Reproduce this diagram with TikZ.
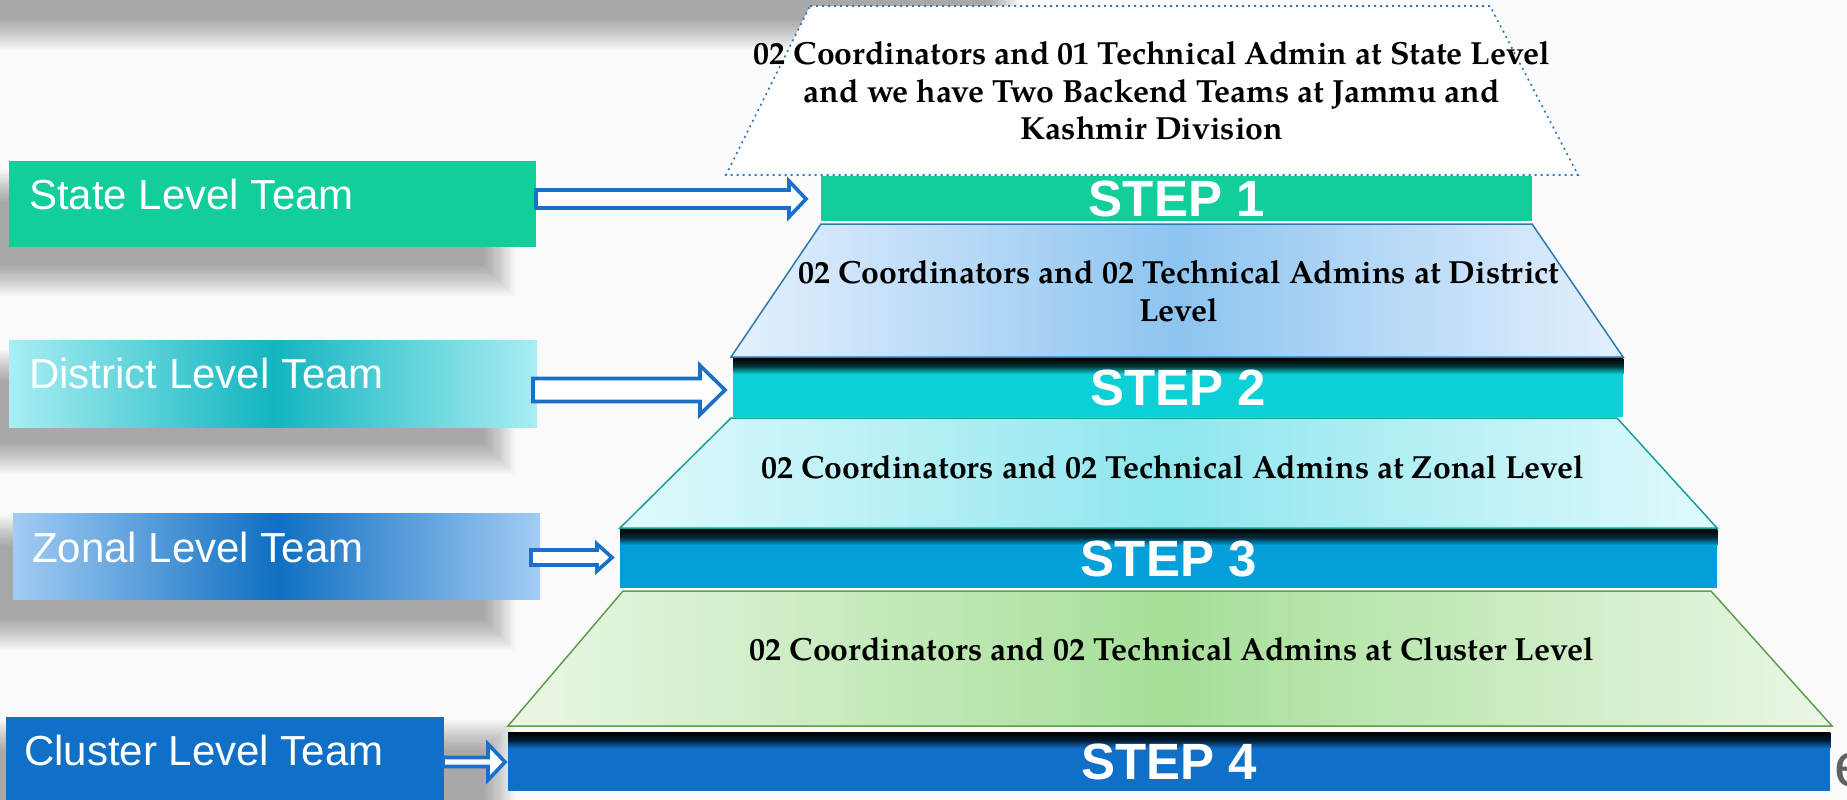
\documentclass[tikz,border=0pt]{standalone}
\usepackage{fontspec}
\setmainfont{Liberation Sans}
\newfontfamily\pagfont{TeX Gyre Pagella}
\definecolor{bgc}{RGB}{250,250,250}
\definecolor{cstate}{RGB}{18,206,154}
\definecolor{cstep2}{RGB}{11,208,216}
\definecolor{cstep3}{RGB}{2,159,217}
\definecolor{cblue}{RGB}{16,111,198}
\definecolor{carrow}{RGB}{26,111,200}
\definecolor{cdot}{RGB}{46,117,192}
\definecolor{dEdge}{RGB}{228,240,253}
\definecolor{dMid}{RGB}{141,196,240}
\definecolor{dLine}{RGB}{43,123,175}
\definecolor{zEdge}{RGB}{224,250,252}
\definecolor{zMid}{RGB}{143,230,238}
\definecolor{zLine}{RGB}{27,156,156}
\definecolor{gEdge}{RGB}{234,247,230}
\definecolor{gMid}{RGB}{166,223,152}
\definecolor{gLine}{RGB}{94,158,72}
\definecolor{dbLight}{RGB}{169,238,243}
\definecolor{dbDark}{RGB}{18,181,191}
\definecolor{zbLight}{RGB}{162,204,243}
\definecolor{zbDark}{RGB}{15,111,194}
\tikzset{
  lbltext/.style={font=\fontsize{42}{48}\selectfont, text=white, inner sep=0pt},
  steptext/.style={font=\fontsize{51}{56}\selectfont\bfseries, text=white, inner sep=0pt},
  desc/.style={font=\pagfont\bfseries\fontsize{32}{37.5}\selectfont, align=center, inner sep=0pt, text=black},
  barrow/.style={draw=carrow, fill=white, line width=3.6pt, line join=miter},
  trap/.style={line width=1.5pt},
  boxnode/.style={draw=none, inner sep=0pt, anchor=north west},
  stepbar/.style={draw=none, inner sep=0pt, anchor=north west},
}
\newcommand\blockarrow[6]{%
  \draw[barrow] (#1,#4-#5) -- (#2,#4-#5) -- (#2,#4-#6) -- (#3,#4) -- (#2,#4+#6) -- (#2,#4+#5) -- (#1,#4+#5) -- cycle;}
\newcommand\softrect[4]{%
  \foreach \i in {0,...,17}{\fill[black, opacity=0.019] (#1+\i*1.8, #2+\i*1.8) rectangle (#3-\i*1.8, #4-\i*1.8);}}
\begin{document}
\begin{tikzpicture}[x=1pt,y=-1pt]
\useasboundingbox (0,0) rectangle (1847,800);
\fill[bgc] (0,0) rectangle (1847,800);
% background shadows
\softrect{-40}{-40}{1020}{50}
\softrect{-40}{170}{515}{296}
\softrect{-40}{350}{515}{474}
\softrect{-40}{515}{515}{650}
\softrect{-40}{720}{515}{840}

% trapezoids
\draw[cdot, line width=1.6pt, dash pattern=on 2pt off 4pt, fill=white] (810,6) -- (1490,6) -- (1578,175) -- (726,175) -- cycle;
\draw[trap, draw=dLine, left color=dEdge, right color=dEdge, middle color=dMid] (821,224) -- (1532,224) -- (1623,357) -- (731,357) -- cycle;
\draw[trap, draw=zLine, left color=zEdge, right color=zEdge, middle color=zMid] (731,418) -- (1617,418) -- (1717,528) -- (620,528) -- cycle;
\draw[trap, draw=gLine, left color=gEdge, right color=gEdge, middle color=gMid] (623,591) -- (1711,591) -- (1832,726) -- (508,726) -- cycle;

% step bars
\node[stepbar, fill=cstate, minimum width=711pt, minimum height=45pt] (s1) at (821,176) {};
\node[stepbar, fill=cstep2, minimum width=890pt, minimum height=59pt] (s2) at (733,358) {};
\node[stepbar, fill=cstep3, minimum width=1097pt, minimum height=59pt] (s3) at (620,529) {};
\node[stepbar, fill=cblue, minimum width=1322pt, minimum height=59pt] (s4) at (508,732) {};
\shade[top color=black, bottom color=cstep2, middle color=black!75!cstep2] (s2.north west) rectangle ([yshift=-16pt]s2.north east);
\shade[top color=black, bottom color=cstep3, middle color=black!75!cstep3] (s3.north west) rectangle ([yshift=-16pt]s3.north east);
\shade[top color=black, bottom color=cblue, middle color=black!75!cblue] (s4.north west) rectangle ([yshift=-16pt]s4.north east);
\node[steptext] (t1) at (s1.center) {STEP 1};
\node[steptext] (t2) at (s2.center) {STEP 2};
\node[steptext] (t3) at (s3.center) {STEP 3};
\node[steptext] (t4) at (s4.center) {STEP 4};

% descriptions
\node[desc] (d1) at (1152,91) {02 Coordinators and 01 Technical Admin at State Level\\and we have Two Backend Teams at Jammu and\\Kashmir Division};
\node[desc] (d2) at (1179,291) {02 Coordinators and 02 Technical Admins at District\\Level};
\node[desc, anchor=base] (d3) at (1173,478) {02 Coordinators and 02 Technical Admins at Zonal Level};
\node[desc, anchor=base] (d4) at (1172,660) {02 Coordinators and 02 Technical Admins at Cluster Level};

% left boxes
\node[boxnode, fill=cstate, minimum width=527pt, minimum height=86pt] (b1) at (9,161) {};
\node[boxnode, left color=dbLight, right color=dbLight, middle color=dbDark, minimum width=528pt, minimum height=87pt] (b2) at (9,340) {};
\node[boxnode, left color=zbLight, right color=zbLight, middle color=zbDark, minimum width=527pt, minimum height=86pt] (b3) at (13,513) {};
\node[boxnode, fill=cblue, minimum width=438pt, minimum height=84pt] (b4) at (6,717) {};
\node[lbltext, anchor=base west] (l1) at (29,209) {State Level Team};
\node[lbltext, anchor=base west] (l2) at (29,388) {District Level Team};
\node[lbltext, anchor=base west] (l3) at (32,562) {Zonal Level Team};
\node[lbltext, anchor=base west] (l4) at (24,765) {Cluster Level Team};

% arrows
\blockarrow{536}{789}{806}{199}{9}{18}
\blockarrow{533}{700}{725}{390}{11.5}{24.5}
\blockarrow{531}{597}{612}{557.5}{7.5}{13.5}
\blockarrow{443}{488}{505}{762}{4.5}{18}

% logo fragment
\node[text=gray!75!black, font=\fontsize{62}{62}\selectfont, anchor=base west, inner sep=0pt] (logo) at (1834,786) {e};
\end{tikzpicture}
\end{document}
